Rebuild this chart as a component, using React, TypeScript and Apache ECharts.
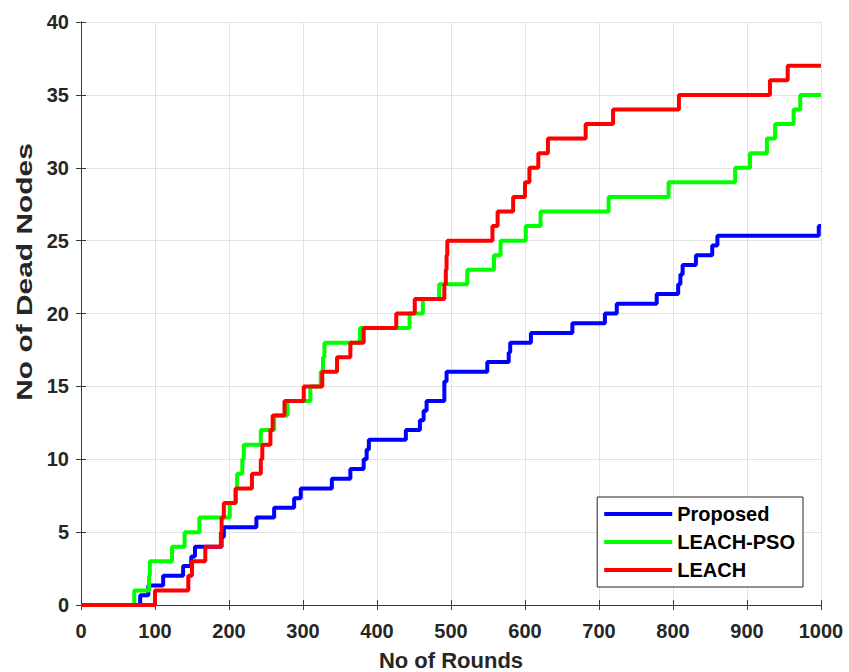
import React, { useEffect, useRef } from "react";
import * as echarts from "echarts";

const proposedRounds = [0, 80, 91, 111, 138, 149, 154, 190, 193, 237, 261, 288, 297, 339, 364, 382, 386, 389, 439, 458, 463, 467, 491, 494, 549, 578, 580, 608, 664, 708, 724, 778, 807, 810, 813, 831, 853, 860, 997, 1000];
const proposedDead = [0, 0.67, 1.33, 2, 2.67, 3.33, 4, 4.67, 5.33, 6, 6.67, 7.33, 8, 8.67, 9.33, 10, 10.67, 11.33, 12, 12.67, 13.33, 14, 15.33, 16, 16.67, 17.33, 18, 18.67, 19.33, 20, 20.67, 21.33, 22, 22.67, 23.33, 24, 24.67, 25.33, 26, 26];

const psoRounds = [0, 72, 92, 93, 123, 140, 160, 201, 209, 211, 218, 220, 243, 261, 279, 310, 324, 327, 329, 377, 444, 462, 484, 522, 558, 567, 601, 621, 713, 794, 884, 904, 927, 938, 963, 972, 1000];
const psoDead = [0, 1, 2, 3, 4, 5, 6, 7, 8, 9, 10, 11, 12, 13, 14, 15, 16, 17, 18, 19, 20, 21, 22, 23, 24, 25, 26, 27, 28, 29, 30, 31, 32, 33, 34, 35, 35];

const leachRounds = [0, 100, 145, 150, 168, 189, 190, 193, 209, 231, 243, 245, 256, 259, 275, 301, 326, 346, 364, 382, 426, 451, 491, 493, 494, 495, 556, 563, 584, 600, 606, 618, 631, 682, 719, 808, 931, 955, 1000];
const leachDead = [0, 1, 2, 3, 4, 5, 6, 7, 8, 9, 10, 11, 12, 13, 14, 15, 16, 17, 18, 19, 20, 21, 22, 23, 24, 25, 26, 27, 28, 29, 30, 31, 32, 33, 34, 35, 36, 37, 37];

const seriesNames = ["Proposed", "LEACH-PSO", "LEACH"];
const seriesColors = ["#0000ff", "#00ff00", "#ff0000"];

const xTitle = "No of Rounds";
const yTitle = "No of Dead Nodes";

const pairs = (xs: number[], ys: number[]) => xs.map((x, i) => [x, ys[i]]);

const FONT = "'Liberation Sans', Arial, Helvetica, sans-serif";
const TXT = "#262626";
const AXIS = "#3a3a3a";

export default function App() {
  const ref = useRef<HTMLDivElement>(null);
  useEffect(() => {
    document.body.style.margin = "0";
    if (!ref.current) return;
    const chart = echarts.init(ref.current, undefined, { renderer: "svg" });
    const dataSets = [
      pairs(proposedRounds, proposedDead),
      pairs(psoRounds, psoDead),
      pairs(leachRounds, leachDead),
    ];
    const boxAxis = {
      axisLine: { show: true, lineStyle: { color: AXIS, width: 1 } },
      axisTick: { show: true, inside: true, length: 5, lineStyle: { color: AXIS } },
      axisLabel: { show: false },
      splitLine: { show: false },
    };
    chart.setOption({
      animation: false,
      backgroundColor: "#ffffff",
      grid: { left: 81, right: 28, top: 22, bottom: 67, containLabel: false, outerBoundsMode: "none" },
      legend: {
        data: seriesNames.map((n) => ({ name: n, icon: "rect" })),
        orient: "vertical",
        right: 46,
        bottom: 85,
        itemWidth: 68,
        itemHeight: 4,
        itemGap: 8,
        padding: [7, 8, 7, 7],
        borderColor: "#262626",
        borderWidth: 1,
        backgroundColor: "#ffffff",
        textStyle: { fontFamily: FONT, fontWeight: "bold", fontSize: 20, color: "#000000", lineHeight: 20 },
      },
      graphic: [
        {
          type: "text",
          x: 24.5,
          y: 272,
          rotation: Math.PI / 2,
          scaleX: 1.36,
          style: {
            text: yTitle,
            font: `bold 22px ${FONT}`,
            fill: TXT,
            textAlign: "center",
            textVerticalAlign: "middle",
          },
        },
      ],
      xAxis: [
        {
          type: "value",
          min: 0,
          max: 1000,
          interval: 100,
          name: xTitle,
          nameLocation: "middle",
          nameGap: 44,
          nameTextStyle: { fontFamily: FONT, fontWeight: "bold", fontSize: 22, color: TXT },
          axisLine: { show: true, onZero: false, lineStyle: { color: AXIS, width: 1 } },
          axisTick: { show: true, inside: true, length: 5, lineStyle: { color: AXIS } },
          axisLabel: {
            fontFamily: FONT,
            fontWeight: "bold",
            fontSize: 20,
            color: TXT,
            margin: 16,
            formatter: (v: number) => String(v),
          },
          splitLine: { show: true, lineStyle: { color: "#e2e2e2", width: 1 } },
        },
        { type: "value", min: 0, max: 1000, interval: 100, position: "top", ...boxAxis },
      ],
      yAxis: [
        {
          type: "value",
          min: 0,
          max: 40,
          interval: 5,
          axisLine: { show: true, onZero: false, lineStyle: { color: AXIS, width: 1 } },
          axisTick: { show: true, inside: true, length: 5, lineStyle: { color: AXIS } },
          axisLabel: { fontFamily: FONT, fontWeight: "bold", fontSize: 20, color: TXT, margin: 12 },
          splitLine: { show: true, lineStyle: { color: "#e2e2e2", width: 1 } },
        },
        { type: "value", min: 0, max: 40, interval: 5, position: "right", ...boxAxis },
      ],
      series: dataSets.map((d, i) => ({
        name: seriesNames[i],
        type: "line",
        step: "end",
        data: d,
        symbol: "none",
        showSymbol: false,
        xAxisIndex: 0,
        yAxisIndex: 0,
        color: seriesColors[i],
        itemStyle: { color: seriesColors[i] },
        lineStyle: { color: seriesColors[i], width: 4 },
        z: 2 + i,
      })),
    });
    return () => chart.dispose();
  }, []);
  return <div ref={ref} style={{ width: 849, height: 672 }} />;
}
